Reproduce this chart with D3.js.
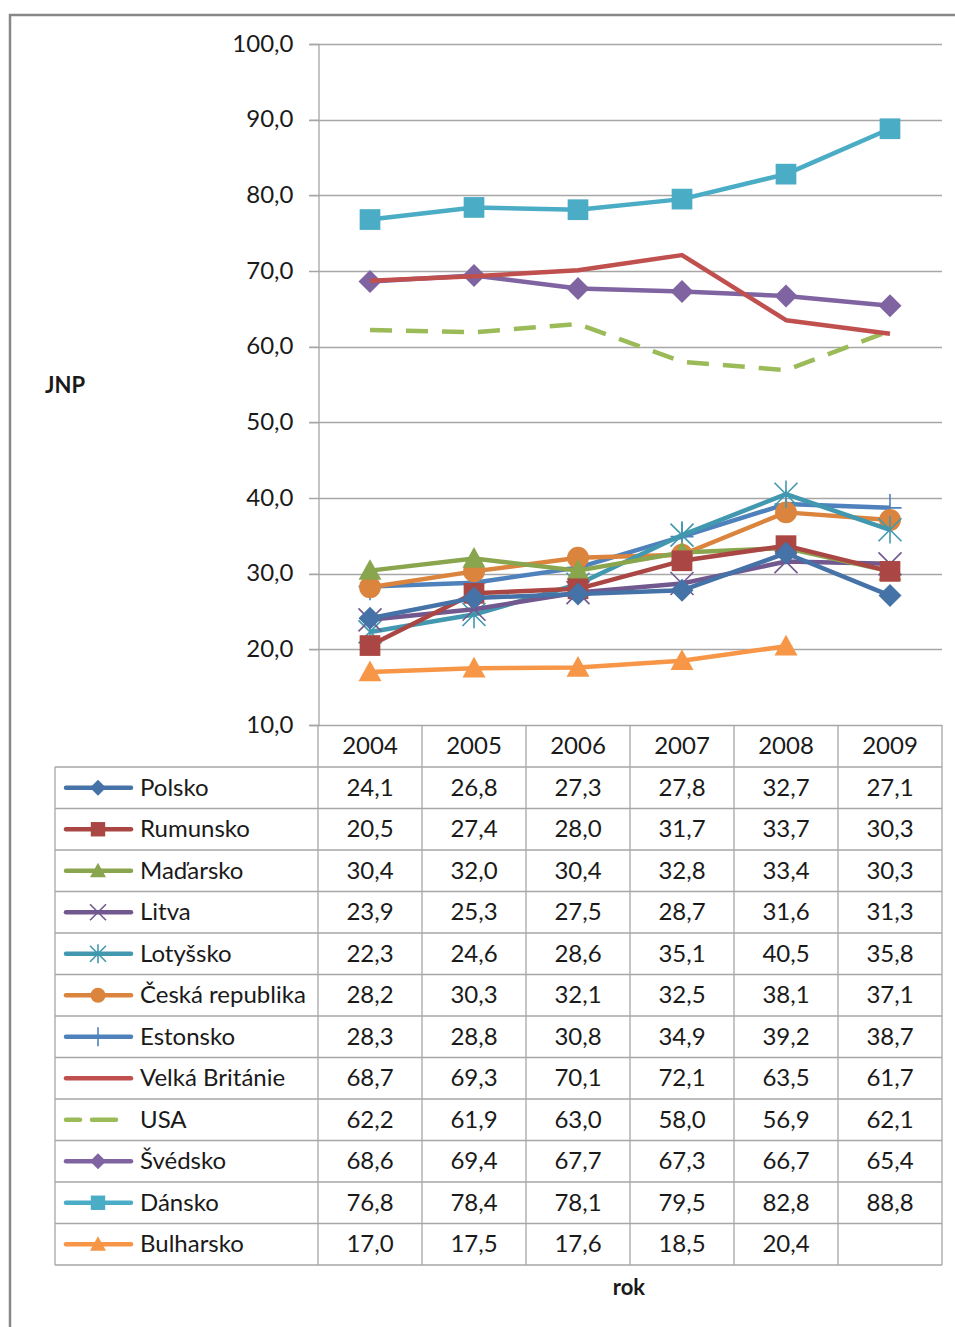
<!DOCTYPE html>
<html>
<head>
<meta charset="utf-8">
<script src="https://cdn.jsdelivr.net/npm/d3@7"></script>
<style>
  body { margin: 0; background: #fff; }
  svg text { font-family: Lato, "Open Sans", sans-serif; fill: #1a1a1a; }
</style>
</head>
<body>
<div id="chart"></div>
<script>
// years on the x axis
var years = ["2004", "2005", "2006", "2007", "2008", "2009"];

// series names, in table order
var countries = ["Polsko", "Rumunsko", "Maďarsko", "Litva", "Lotyšsko", "Česká republika",
    "Estonsko", "Velká Británie", "USA", "Švédsko", "Dánsko", "Bulharsko"];

// values per country (null = no data)
var polsko = [24.1, 26.8, 27.3, 27.8, 32.7, 27.1];
var rumunsko = [20.5, 27.4, 28.0, 31.7, 33.7, 30.3];
var madarsko = [30.4, 32.0, 30.4, 32.8, 33.4, 30.3];
var litva = [23.9, 25.3, 27.5, 28.7, 31.6, 31.3];
var lotyssko = [22.3, 24.6, 28.6, 35.1, 40.5, 35.8];
var ceska = [28.2, 30.3, 32.1, 32.5, 38.1, 37.1];
var estonsko = [28.3, 28.8, 30.8, 34.9, 39.2, 38.7];
var britanie = [68.7, 69.3, 70.1, 72.1, 63.5, 61.7];
var usa = [62.2, 61.9, 63.0, 58.0, 56.9, 62.1];
var svedsko = [68.6, 69.4, 67.7, 67.3, 66.7, 65.4];
var dansko = [76.8, 78.4, 78.1, 79.5, 82.8, 88.8];
var bulharsko = [17.0, 17.5, 17.6, 18.5, 20.4, null];

var yTicks = [10, 20, 30, 40, 50, 60, 70, 80, 90, 100];

var allValues = [polsko, rumunsko, madarsko, litva, lotyssko, ceska, estonsko, britanie, usa, svedsko, dansko, bulharsko];
var colors = ["#4572A7", "#AA4643", "#89A54E", "#71588F", "#4198AF", "#DB843D",
    "#4F81BD", "#C0504D", "#9BBB59", "#8064A2", "#4BACC6", "#F79646"];
var markers = ["diamond", "square", "triangle", "x", "star", "circle",
    "plus", "none", "none", "diamond", "square", "triangle"];

var series = countries.map(function (name, i) {
    return { name: name, values: allValues[i], color: colors[i], marker: markers[i], dashed: name === "USA" };
});

var width = 955, height = 1327;
var svg = d3.select("#chart").append("svg")
    .attr("width", width)
    .attr("height", height);

// outer frame
svg.append("path")
    .attr("d", "M10,1327 V15 H955")
    .attr("fill", "none")
    .attr("stroke", "#888")
    .attr("stroke-width", 2.5);

var x = d3.scaleBand().domain(years).range([318, 942]);
var y = d3.scaleLinear().domain([10, 100]).range([725, 44]);
var rows = d3.scaleBand().domain(countries).range([767, 1265]);
var gridColor = "#a6a6a6";
var fontSize = "24px";

// gridlines
svg.append("g").selectAll("line")
    .data(yTicks)
    .enter().append("line")
    .attr("x1", 309).attr("x2", 942)
    .attr("y1", function (d) { return Math.round(y(d)) + 0.5; })
    .attr("y2", function (d) { return Math.round(y(d)) + 0.5; })
    .attr("stroke", gridColor)
    .attr("stroke-width", 1.3);

// y axis with labels
var yAxis = d3.axisLeft(y)
    .tickValues(yTicks)
    .tickSize(9)
    .tickFormat(function (d) { return d3.format(".1f")(d).replace(".", ","); });
var gy = svg.append("g").attr("transform", "translate(318.5,0)").call(yAxis);
gy.select(".domain").attr("stroke", gridColor).attr("stroke-width", 1.3);
gy.selectAll(".tick line").attr("stroke", gridColor);
gy.selectAll(".tick text")
    .attr("x", -25)
    .attr("dy", "0.3em")
    .style("font-size", fontSize);

// table grid
var tableTop = 725, tableBottom = 1265, headerBottom = 767;
var colEdges = [x.range()[0]].concat(years.map(function (d) { return x(d) + x.bandwidth(); }));
var tg = svg.append("g").attr("stroke", gridColor).attr("stroke-width", 1.3);
colEdges.forEach(function (cx) {
    tg.append("line").attr("x1", cx).attr("x2", cx).attr("y1", tableTop).attr("y2", tableBottom);
});
tg.append("line").attr("x1", 55).attr("x2", 55).attr("y1", headerBottom).attr("y2", tableBottom);
countries.forEach(function (c) {
    tg.append("line").attr("x1", 55).attr("x2", 942).attr("y1", rows(c)).attr("y2", rows(c));
});
tg.append("line").attr("x1", 55).attr("x2", 942).attr("y1", tableBottom).attr("y2", tableBottom);

// header years
svg.append("g").selectAll("text")
    .data(years)
    .enter().append("text")
    .attr("x", function (d) { return x(d) + x.bandwidth() / 2; })
    .attr("y", (tableTop + headerBottom) / 2)
    .attr("dy", "0.34em")
    .attr("text-anchor", "middle")
    .style("font-size", fontSize)
    .text(function (d) { return d; });

function drawMarker(g, type, size, color) {
    var s = size / 2;
    if (type === "diamond") {
        g.append("path").attr("d", "M0," + (-s) + "L" + s + ",0L0," + s + "L" + (-s) + ",0Z").attr("fill", color);
    } else if (type === "square") {
        g.append("rect").attr("x", -s * 0.9).attr("y", -s * 0.9).attr("width", s * 1.8).attr("height", s * 1.8).attr("fill", color);
    } else if (type === "triangle") {
        g.append("path").attr("d", "M0," + (-s) + "L" + s + "," + (s * 0.8) + "L" + (-s) + "," + (s * 0.8) + "Z").attr("fill", color);
    } else if (type === "circle") {
        g.append("circle").attr("r", s * 0.95).attr("fill", color);
    } else if (type === "x") {
        g.append("path").attr("d", "M" + (-s) + "," + (-s) + "L" + s + "," + s + "M" + s + "," + (-s) + "L" + (-s) + "," + s)
            .attr("stroke", color).attr("stroke-width", 1.6).attr("fill", "none");
    } else if (type === "star") {
        g.append("path").attr("d", "M" + (-s) + "," + (-s) + "L" + s + "," + s + "M" + s + "," + (-s) + "L" + (-s) + "," + s + "M0," + (-s * 1.2) + "L0," + (s * 1.2))
            .attr("stroke", color).attr("stroke-width", 1.6).attr("fill", "none");
    } else if (type === "plus") {
        g.append("path").attr("d", "M0," + (-s * 1.2) + "L0," + (s * 1.2) + "M" + (-s) + ",0L" + s + ",0")
            .attr("stroke", color).attr("stroke-width", 1.6).attr("fill", "none");
    }
}

// lines, drawn bottom of the table first so Polsko ends on top
var line = d3.line()
    .defined(function (d) { return d.v !== null; })
    .x(function (d) { return x(d.year) + x.bandwidth() / 2; })
    .y(function (d) { return y(d.v); });

var plot = svg.append("g");
series.slice().reverse().forEach(function (s) {
    var pts = s.values.map(function (v, i) { return { year: years[i], v: v }; });
    var sg = plot.append("g");
    sg.append("path")
        .datum(pts)
        .attr("d", line)
        .attr("fill", "none")
        .attr("stroke", s.color)
        .attr("stroke-width", 4.5)
        .attr("stroke-linejoin", "round")
        .attr("stroke-dasharray", s.dashed ? "22,14" : null);
    pts.filter(function (p) { return p.v !== null; }).forEach(function (p) {
        var mg = sg.append("g").attr("transform", "translate(" + (x(p.year) + x.bandwidth() / 2) + "," + y(p.v) + ")");
        drawMarker(mg, s.marker, 23, s.color);
    });
});

// table rows: legend key, name, values
var rowG = svg.append("g").selectAll("g")
    .data(series)
    .enter().append("g")
    .attr("transform", function (d) { return "translate(0," + (rows(d.name) + rows.bandwidth() / 2) + ")"; });

rowG.each(function (d) {
    var g = d3.select(this);
    g.append("line")
        .attr("x1", 66).attr("x2", 131)
        .attr("stroke", d.color)
        .attr("stroke-width", 4.5)
        .attr("stroke-linecap", "round")
        .attr("stroke-dasharray", d.dashed ? "14,12,24,50" : null);
    var mg = g.append("g").attr("transform", "translate(98,0)");
    drawMarker(mg, d.marker, 16, d.color);
    g.append("text")
        .attr("x", 140)
        .attr("dy", "0.34em")
        .style("font-size", fontSize)
        .text(d.name);
    g.selectAll("text.val")
        .data(d.values.map(function (v, i) { return { v: v, year: years[i] }; }).filter(function (p) { return p.v !== null; }))
        .enter().append("text")
        .attr("class", "val")
        .attr("x", function (p) { return x(p.year) + x.bandwidth() / 2; })
        .attr("dy", "0.34em")
        .attr("text-anchor", "middle")
        .style("font-size", fontSize)
        .text(function (p) { return d3.format(".1f")(p.v).replace(".", ","); });
});

// axis titles
svg.append("text")
    .attr("x", 45).attr("y", 393)
    .style("font-size", "22px").style("font-weight", "bold")
    .text("JNP");
svg.append("text")
    .attr("x", 629).attr("y", 1295)
    .attr("text-anchor", "middle")
    .style("font-size", "22px").style("font-weight", "bold")
    .text("rok");
</script>
</body>
</html>
